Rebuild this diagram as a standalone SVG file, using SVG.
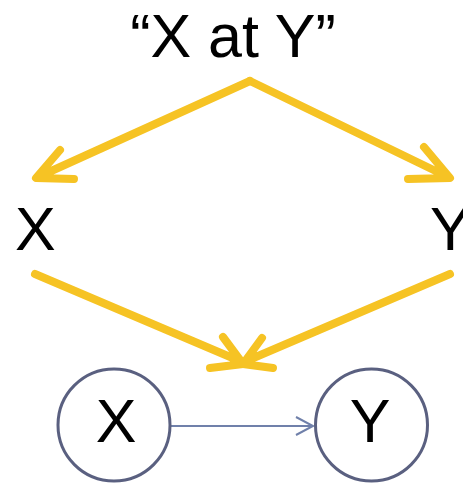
<svg xmlns="http://www.w3.org/2000/svg" width="463" height="483" viewBox="0 0 463 483">
<style>
text{font-family:"Liberation Sans",Arial,sans-serif;fill:#000;}
.big{font-size:61px;}
.ya{fill:none;stroke:#F6C324;stroke-width:8;stroke-linecap:round;stroke-linejoin:round;}
.node{fill:#fff;stroke:#5A6080;stroke-width:3;}
.edge{fill:none;stroke:#7080AA;stroke-width:2;}
</style>
<rect width="463" height="483" fill="#fff"/>
<g id="connectors">
  <path class="ya" d="M250,81 L38,177 M60,150 L36,178 L74,179"/>
  <path class="ya" d="M250,81 L448,177 M424,147 L450,178 L408,179"/>
  <path class="ya" d="M35,274 L242,362 M223,337 L243,364 L210,368"/>
  <path class="ya" d="M450,274 L244,362 M262,338 L243,364 L273,368"/>
  <path class="edge" d="M171,426 L313,426 M296,417 L313,426 L296,435"/>
</g>
<g id="label-top"><text class="big" x="233" y="57" text-anchor="middle">“X at Y”</text></g>
<g id="label-x"><text class="big" x="15" y="250">X</text></g>
<g id="label-y"><text class="big" x="430" y="250">Y</text></g>
<g id="node-x"><circle class="node" cx="114" cy="425" r="56"/><text class="big" x="116" y="442" text-anchor="middle">X</text></g>
<g id="node-y"><circle class="node" cx="371.5" cy="425" r="56"/><text class="big" x="370" y="442" text-anchor="middle">Y</text></g>
</svg>
